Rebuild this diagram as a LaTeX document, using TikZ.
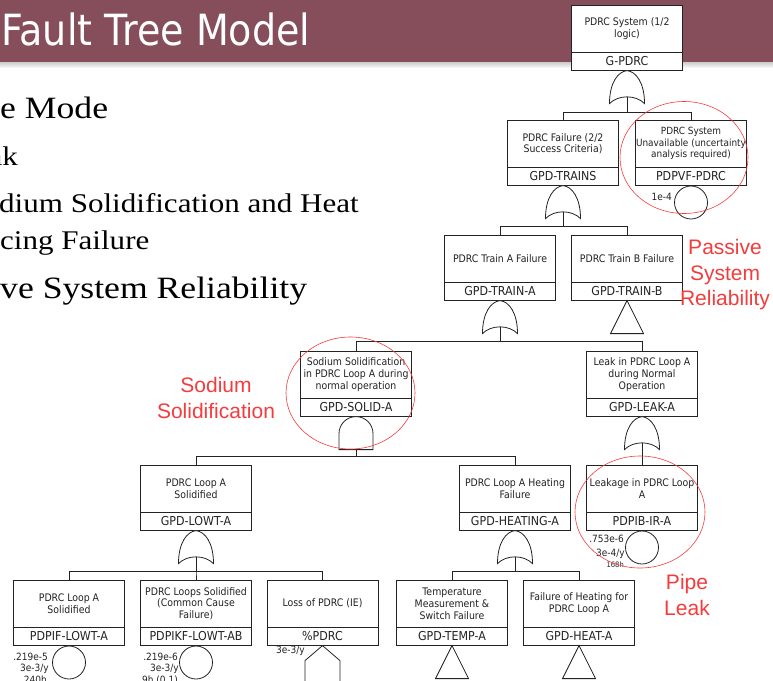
\documentclass[tikz,border=0pt]{standalone}
\usepackage{fontspec}
\setmainfont{DejaVu Sans}
\newfontfamily\slideserif[FakeStretch=1.15]{Liberation Serif}
\newfontfamily\titlefont[FakeStretch=0.885]{DejaVu Sans}
\newfontfamily\treefont[FakeStretch=0.9]{DejaVu Sans}
\newfontfamily\notefont{Liberation Sans}
\usetikzlibrary{calc}

\definecolor{banner}{RGB}{134,77,91}
\definecolor{ink}{RGB}{35,35,35}
\definecolor{markred}{RGB}{245,60,60}

\begin{document}
\begin{tikzpicture}[x=1pt, y=-1pt,
  desc/.style={draw=ink, line width=0.8pt, fill=white, minimum width=111pt,
    minimum height=46.5pt, inner xsep=0pt, inner ysep=1pt, align=center,
    anchor=north, text=ink, font=\treefont\fontsize{10.4}{11.8}\selectfont},
  eid/.style={draw=ink, line width=0.8pt, fill=white, minimum width=111pt,
    minimum height=17.5pt, inner sep=0pt, anchor=north, text=ink,
    font=\treefont\fontsize{12.3}{14}\selectfont},
  gate/.style={draw=ink, line width=0.8pt, fill=white},
  wire/.style={draw=ink, line width=0.8pt},
  basic/.style={circle, draw=ink, line width=0.8pt, fill=white,
    minimum size=33pt, inner sep=0pt, anchor=north},
  evlabel/.style={anchor=east, inner sep=0pt, text=ink,
    font=\treefont\fontsize{10}{11}\selectfont},
  slidetext/.style={anchor=base west, inner sep=0pt, text=black},
  note/.style={text=markred, align=center, inner sep=0pt,
    font=\notefont\fontsize{21}{25.5}\selectfont},
  ring/.style={draw=markred, line width=0.6pt},
  orgate/.pic={
    \draw[gate] (-17.5,33) .. controls (-17.5,12) and (-9,1) .. (0,0)
      .. controls (9,1) and (17.5,12) .. (17.5,33)
      .. controls (9,24) and (-9,24) .. (-17.5,33) -- cycle;
    \coordinate (-out) at (0,26.3);
  },
  andgate/.pic={
    \draw[gate] (-17,33) -- (-17,17) .. controls (-17,7.6) and (-9.4,0) .. (0,0)
      .. controls (9.4,0) and (17,7.6) .. (17,17) -- (17,33) -- cycle;
    \coordinate (-out) at (0,33);
  },
  transfer/.pic={
    \draw[gate] (0,0) -- (16.5,33) -- (-16.5,33) -- cycle;
  },
  house/.pic={
    \draw[gate] (0,0) -- (17.5,15) -- (17.5,45) -- (-17.5,45) -- (-17.5,15) -- cycle;
  }
]
\useasboundingbox (0,0) rectangle (773,680);
\fill[white] (0,0) rectangle (773,680);

% slide title bar
\fill[banner] (0,0) rectangle (773,62);
\shade[top color=gray!40, bottom color=gray!8] (0,62) rectangle (773,67);
\node[slidetext, text=white, font=\titlefont\fontsize{43}{43}\selectfont]
  (title) at (1,45) {Fault Tree Model};

% bullet text on the left
\node[slidetext, font=\slideserif\fontsize{31}{31}\selectfont] (b1) at (0,118) {e Mode};
\node[slidetext, font=\slideserif\fontsize{27}{27}\selectfont] (b2) at (-11.5,165) {ak};
\node[slidetext, font=\slideserif\fontsize{27}{27}\selectfont] (b3) at (-1,212) {dium Solidification and Heat};
\node[slidetext, font=\slideserif\fontsize{27}{27}\selectfont] (b4) at (0,249) {cing Failure};
\node[slidetext, font=\slideserif\fontsize{31}{31}\selectfont] (b5) at (0,298) {ve System Reliability};

% ---- events ----
\node[desc] (gpdrc) at (627,5) {PDRC System (1/2\\logic)};
\node[eid] (gpdrc-id) at (gpdrc.south) {G-PDRC};

\node[desc] (trains) at (563,120) {PDRC Failure (2/2\\Success Criteria)};
\node[eid] (trains-id) at (trains.south) {GPD-TRAINS};

\node[desc, font=\treefont\fontsize{9.9}{11.4}\selectfont] (pdpvf) at (691,120)
  {PDRC System\\Unavailable (uncertainty\\analysis required)};
\node[eid] (pdpvf-id) at (pdpvf.south) {PDPVF-PDRC};

\node[desc] (traina) at (500,235) {PDRC Train A Failure};
\node[eid] (traina-id) at (traina.south) {GPD-TRAIN-A};

\node[desc] (trainb) at (627,235) {PDRC Train B Failure};
\node[eid] (trainb-id) at (trainb.south) {GPD-TRAIN-B};

\node[desc] (solida) at (356,351) {Sodium Solidification\\in PDRC Loop A during\\normal operation};
\node[eid] (solida-id) at (solida.south) {GPD-SOLID-A};

\node[desc] (leaka) at (642,351) {Leak in PDRC Loop A\\during Normal\\Operation};
\node[eid] (leaka-id) at (leaka.south) {GPD-LEAK-A};

\node[desc] (lowta) at (196,465) {PDRC Loop A\\Solidified};
\node[eid] (lowta-id) at (lowta.south) {GPD-LOWT-A};

\node[desc] (heatinga) at (515,465) {PDRC Loop A Heating\\Failure};
\node[eid] (heatinga-id) at (heatinga.south) {GPD-HEATING-A};

\node[desc] (pdpib) at (642,465) {Leakage in PDRC Loop\\A};
\node[eid] (pdpib-id) at (pdpib.south) {PDPIB-IR-A};

\node[desc] (pdpif) at (69,580) {PDRC Loop A\\Solidified};
\node[eid] (pdpif-id) at (pdpif.south) {PDPIF-LOWT-A};

\node[desc] (pdpikf) at (196,580) {PDRC Loops Solidified\\(Common Cause\\Failure)};
\node[eid] (pdpikf-id) at (pdpikf.south) {PDPIKF-LOWT-AB};

\node[desc] (ie) at (322.5,580) {Loss of PDRC (IE)};
\node[eid] (ie-id) at (ie.south) {\%PDRC};

\node[desc] (tempa) at (452,580) {Temperature\\Measurement \&\\Switch Failure};
\node[eid] (tempa-id) at (tempa.south) {GPD-TEMP-A};

\node[desc] (heata) at (579,580) {Failure of Heating for\\PDRC Loop A};
\node[eid] (heata-id) at (heata.south) {GPD-HEAT-A};

% ---- gates ----
\pic (g-pdrc) at (gpdrc-id.south) {orgate};
\pic (g-trains) at (trains-id.south) {orgate};
\pic (g-traina) at (traina-id.south) {orgate};
\pic (g-solida) at (solida-id.south) {andgate};
\pic (g-leaka) at (leaka-id.south) {orgate};
\pic (g-lowta) at (lowta-id.south) {orgate};
\pic (g-heatinga) at (heatinga-id.south) {orgate};

\pic at (trainb-id.south) {transfer};
\pic at (tempa-id.south) {transfer};
\pic at (heata-id.south) {transfer};
\pic at (ie-id.south) {house};

% ---- connectors ----
\draw[wire] (g-pdrc-out) |- ([yshift=7.5pt]trains.north) -- (trains.north);
\draw[wire] (g-pdrc-out) |- ([yshift=7.5pt]pdpvf.north) -- (pdpvf.north);
\draw[wire] (g-trains-out) |- ([yshift=9pt]traina.north) -- (traina.north);
\draw[wire] (g-trains-out) |- ([yshift=9pt]trainb.north) -- (trainb.north);
\draw[wire] (g-traina-out) |- ([yshift=9.5pt]solida.north) -- (solida.north);
\draw[wire] (g-traina-out) |- ([yshift=9.5pt]leaka.north) -- (leaka.north);
\draw[wire] (g-solida-out) |- ([yshift=9pt]lowta.north) -- (lowta.north);
\draw[wire] (g-solida-out) |- ([yshift=9pt]heatinga.north) -- (heatinga.north);
\draw[wire] (g-leaka-out) -- (pdpib.north);
\draw[wire] (g-lowta-out) |- ([yshift=8.5pt]pdpif.north) -- (pdpif.north);
\draw[wire] (g-lowta-out) |- ([yshift=8.5pt]pdpikf.north) -- (pdpikf.north);
\draw[wire] (g-lowta-out) |- ([yshift=8.5pt]ie.north) -- (ie.north);
\draw[wire] (g-heatinga-out) |- ([yshift=8.5pt]tempa.north) -- (tempa.north);
\draw[wire] (g-heatinga-out) |- ([yshift=8.5pt]heata.north) -- (heata.north);

% ---- basic events ----
\node[basic] (pdpvf-ev) at (pdpvf-id.south) {};
\node[basic] (pdpib-ev) at (pdpib-id.south) {};
\node[basic] (pdpif-ev) at (pdpif-id.south) {};
\node[basic] (pdpikf-ev) at (pdpikf-id.south) {};

\node[evlabel] (pdpvf-p) at (672,197) {1e-4};

\node[evlabel] (pdpib-p) at (624,539) {.753e-6};
\node[evlabel] (pdpib-f) at (625,554) {3e-4/y};
\node[evlabel, font=\treefont\fontsize{7.5}{8}\selectfont] (pdpib-t) at (624,565) {168h};

\node[evlabel] (pdpif-p) at (48,657) {.219e-5};
\node[evlabel] (pdpif-f) at (49,669) {3e-3/y};
\node[evlabel] (pdpif-t) at (47,680) {240h};

\node[evlabel] (pdpikf-p) at (178,657) {.219e-6};
\node[evlabel] (pdpikf-f) at (179,669) {3e-3/y};
\node[evlabel] (pdpikf-t) at (178,680) {9h (0.1)};

\node[evlabel] (ie-f) at (305,651) {3e-3/y};

% ---- highlights ----
\draw[ring] (684,157.5) ellipse [x radius=64pt, y radius=56pt];
\draw[ring] (350.5,393) ellipse [x radius=64.5pt, y radius=56pt];
\draw[ring] (640,512) ellipse [x radius=65pt, y radius=56pt];

\node[note] (passive) at (725,275) {Passive\\System\\Reliability};
\node[note] (sodium) at (216,398) {Sodium\\Solidification};
\node[note] (pipe) at (687,595) {Pipe\\Leak};
\end{tikzpicture}
\end{document}
